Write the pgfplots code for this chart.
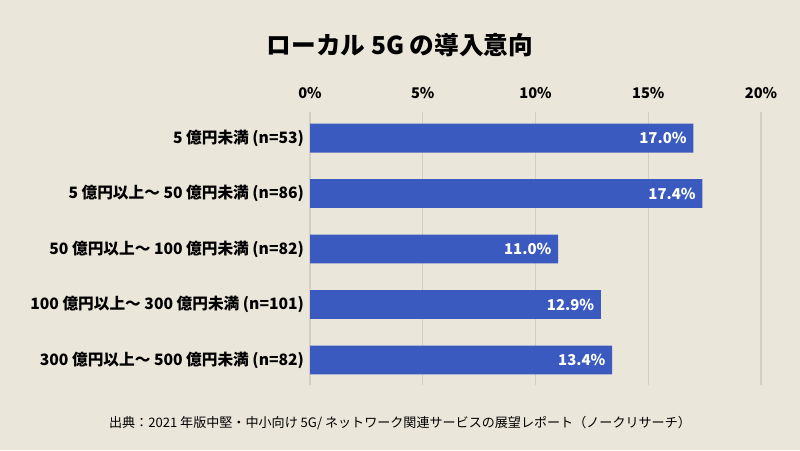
\documentclass[border=0pt]{standalone}
\usepackage{fontspec}
\setmainfont{Noto Sans CJK JP}
\usepackage{pgfplots}
\pgfplotsset{compat=1.18}
\definecolor{bg}{HTML}{EAE6D9}
\definecolor{barblue}{HTML}{3B5AC0}
\definecolor{gridc}{HTML}{D3CFC3}
\begin{document}
\begin{tikzpicture}
\useasboundingbox (0,0) rectangle (600pt,337.5pt);
\fill[bg] (0,0) rectangle (600pt,337.5pt);
\node[font=\bfseries\fontsize{18.5}{22}\selectfont] at (300pt,304pt) {ローカル 5G の導入意向};
\node[font=\fontsize{9.8}{12}\selectfont] at (300pt,20.25pt) {出典：2021 年版中堅・中小向け 5G/ ネットワーク関連サービスの展望レポート（ノークリサーチ）};
\begin{axis}[
  at={(232.5pt,48.75pt)}, anchor=south west,
  scale only axis, width=338.25pt, height=204.75pt,
  /pgf/number format/assume math mode=true,
  xbar, bar width=0.52,
  xmin=0, xmax=20,
  ymin=-0.47, ymax=4.45, y dir=reverse,
  xtick={0,5,10,15,20},
  xticklabels={0\%,5\%,10\%,15\%,20\%},
  xticklabel pos=top,
  xticklabel style={font=\bfseries\fontsize{11}{13}\selectfont, yshift=6.5pt},
  ytick={0,1,2,3,4},
  yticklabels={5 億円未満 (n=53), 5 億円以上〜 50 億円未満 (n=86), 50 億円以上〜 100 億円未満 (n=82), 100 億円以上〜 300 億円未満 (n=101), 300 億円以上〜 500 億円未満 (n=82)},
  yticklabel style={font=\bfseries\fontsize{11.75}{13}\selectfont, xshift=-1pt},
  major tick length=0pt,
  axis line style={draw=none},
  xmajorgrids, grid style={gridc, line width=0.8pt},
  nodes near coords={\pgfmathprintnumber[fixed,fixed zerofill,precision=1]{\pgfplotspointmeta}\%},
  nodes near coords style={anchor=east, xshift=-1.5pt, text=white, font=\bfseries\fontsize{11.2}{13}\selectfont},
]
\addplot[fill=barblue, draw=none] coordinates {(17.0,0) (17.4,1) (11.0,2) (12.9,3) (13.4,4)};
\end{axis}
\end{tikzpicture}
\end{document}
